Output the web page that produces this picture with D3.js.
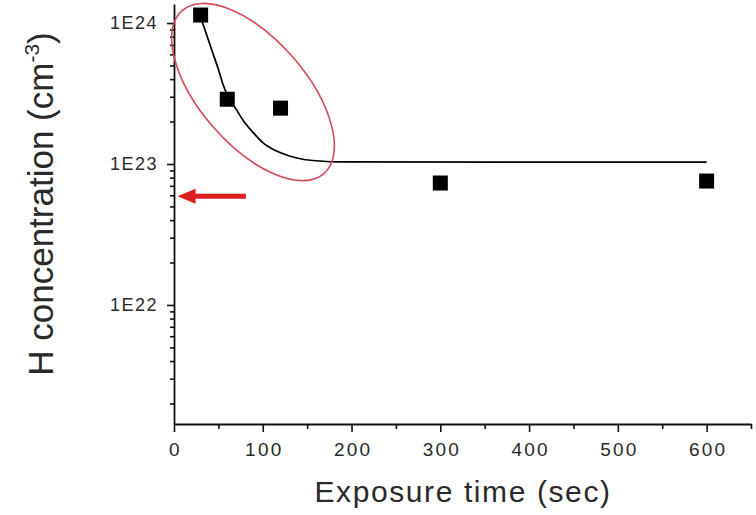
<!DOCTYPE html>
<html><head><meta charset="utf-8">
<script src="https://cdn.jsdelivr.net/npm/d3@7"></script>
<style>body{margin:0;background:#fff}svg{display:block}</style>
</head><body><svg id="c" width="756" height="515"></svg>
<script>
// ---- data ----
const exposureTime = [30, 60, 120, 300, 600];
const hConcentration = [1.14e24, 2.88e23, 2.49e23, 7.33e22, 7.57e22];
const fitTime = [30, 35, 40, 45, 50, 55, 60, 70, 80, 90, 100, 115, 130, 145, 165, 185, 600];
const fitConcentration = [1.10e24, 8.9e23, 7.2e23, 5.8e23, 4.7e23, 3.7e23, 3.1e23, 2.45e23, 1.95e23, 1.65e23, 1.42e23, 1.24e23, 1.14e23, 1.08e23, 1.05e23, 1.035e23, 1.03e23];
const xTickValues = [0, 100, 200, 300, 400, 500, 600];
const xMinorTicks = [50, 150, 250, 350, 450, 550, 650];
const yTickValues = [1e22, 1e23, 1e24];
const yTickLabels = ["1E22", "1E23", "1E24"];
const xTitle = "Exposure time (sec)";
const yTitleMain = "H concentration (cm";
const yTitleSup = "-3";
const highlightCenter = [89, 3.24e23];   // ellipse centre (time, concentration)
const arrowFrom = [81, 5.9e22];
const arrowTo = [4, 5.9e22];

// ---- layout ----
const svg = d3.select("#c");
const x = d3.scaleLinear().domain([0, 650]).range([174, 751]);
const y = d3.scaleLog().domain([1.43e21, 1.365e24]).range([424, 4]);
const font = "'Liberation Sans', Arial, sans-serif";
const textColor = "#2a2a2a";

// minor y ticks
const yMinor = [];
for (let e = 21; e <= 24; e++) for (let m = 2; m <= 9; m++) {
  const v = m * Math.pow(10, e);
  if (v >= y.domain()[0] && v <= y.domain()[1]) yMinor.push(v);
}

function styleAxis(g) {
  g.selectAll("path.domain").attr("stroke", "#111").attr("stroke-width", 1.8);
  g.selectAll(".tick line").attr("stroke", "#111").attr("stroke-width", 1.6);
}

// y minor
svg.append("g").attr("transform", "translate(174,0)")
  .call(d3.axisLeft(y).tickValues(yMinor).tickSize(4).tickFormat(""))
  .call(g => g.select("path.domain").remove())
  .call(styleAxis);
// x minor
svg.append("g").attr("transform", "translate(0,424)")
  .call(d3.axisBottom(x).tickValues(xMinorTicks).tickSize(5).tickFormat(""))
  .call(g => g.select("path.domain").remove())
  .call(styleAxis);

// y major
const gy = svg.append("g").attr("transform", "translate(174,0)")
  .call(d3.axisLeft(y).tickValues(yTickValues).tickSize(7).tickSizeOuter(0).tickPadding(9)
    .tickFormat((d, i) => yTickLabels[yTickValues.indexOf(d)]))
  .call(styleAxis);
gy.selectAll("text").attr("font-family", font).attr("font-size", 18)
  .attr("fill", textColor).attr("letter-spacing", "1.5px");

// x major
const gx = svg.append("g").attr("transform", "translate(0,424)")
  .call(d3.axisBottom(x).tickValues(xTickValues).tickSize(8).tickSizeOuter(0).tickPadding(11)
    .tickFormat(d3.format("d")))
  .call(styleAxis);
gx.selectAll("text").attr("font-family", font).attr("font-size", 19)
  .attr("fill", textColor).attr("letter-spacing", "2.2px").attr("dx", "1px");

// fit line
const line = d3.line().x(d => x(d[0])).y(d => y(d[1])).curve(d3.curveMonotoneX);
svg.append("path")
  .datum(fitTime.map((t, i) => [t, fitConcentration[i]]))
  .attr("d", line).attr("fill", "none").attr("stroke", "#000").attr("stroke-width", 1.7);

// points
const sz = 15;
svg.append("g").selectAll("rect")
  .data(exposureTime.map((t, i) => [t, hConcentration[i]]))
  .join("rect")
  .attr("x", d => x(d[0]) - sz / 2).attr("y", d => y(d[1]) - sz / 2)
  .attr("width", sz).attr("height", sz).attr("fill", "#000");

// highlight ellipse
const ecx = x(highlightCenter[0]), ecy = y(highlightCenter[1]);
svg.append("ellipse").attr("cx", ecx).attr("cy", ecy).attr("rx", 108).attr("ry", 53)
  .attr("transform", `rotate(49,${ecx},${ecy})`)
  .attr("fill", "none").attr("stroke", "#d4495a").attr("stroke-width", 1.6);

// red arrow
const ax0 = x(arrowFrom[0]), ax1 = x(arrowTo[0]), ay = y(arrowTo[1]);
const headLen = 18, headHalf = 7.5;
svg.append("line").attr("x1", ax0).attr("x2", ax1 + headLen - 1).attr("y1", ay).attr("y2", ay)
  .attr("stroke", "#e01c1c").attr("stroke-width", 5);
svg.append("path")
  .attr("d", `M${ax1},${ay}L${ax1 + headLen},${ay - headHalf}L${ax1 + headLen},${ay + headHalf}Z`)
  .attr("fill", "#e01c1c");

// titles
svg.append("text").attr("x", 463).attr("y", 502).attr("text-anchor", "middle")
  .attr("font-family", font).attr("font-size", 30).attr("letter-spacing", "1.6px")
  .attr("fill", textColor).text(xTitle);

const yt = svg.append("text").attr("transform", "translate(53,204) rotate(-90)")
  .attr("text-anchor", "middle").attr("font-family", font).attr("font-size", 35)
  .attr("fill", textColor);
yt.append("tspan").text(yTitleMain);
yt.append("tspan").attr("font-size", 21).attr("dy", -14).text(yTitleSup);
yt.append("tspan").attr("dy", 14).text(")");
</script></body></html>
